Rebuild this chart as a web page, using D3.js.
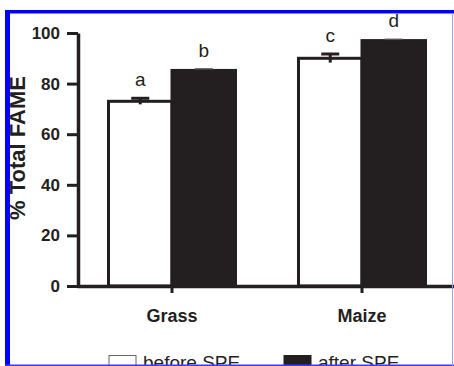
<!DOCTYPE html>
<html>
<head>
<meta charset="utf-8">
<script src="https://cdn.jsdelivr.net/npm/d3@7"></script>
<style>
  html, body { margin: 0; padding: 0; background: #fff; }
  svg { display: block; }
</style>
</head>
<body>
<div id="chart"></div>
<script>
  "use strict";

  const categories = ["Grass", "Maize"];
  const series = ["before SPE", "after SPE"];
  const beforeValues = [73, 90];
  const beforeErr = [1.2, 1.7];
  const afterValues = [85.2, 97];
  const afterErr = [0.6, 0.5];
  const beforeLetters = ["a", "c"];
  const afterLetters = ["b", "d"];
  const yTicks = [0, 20, 40, 60, 80, 100];

  const W = 454, H = 366;
  const INK = "#231f20";
  const FONT = "'Liberation Sans', Arial, Helvetica, sans-serif";

  const svg = d3.select("#chart").append("svg")
    .attr("width", W).attr("height", H)
    .attr("viewBox", `0 0 ${W} ${H}`);

  const y = d3.scaleLinear().domain([0, 100]).range([286, 33]);
  const x = d3.scaleBand().domain(categories)
    .range([77, 457]).paddingInner(0.3316).paddingOuter(0.1658);
  const xSub = d3.scaleBand().domain(series).range([0, x.bandwidth()]);

  // rows for bars
  const rows = [];
  categories.forEach((c, i) => {
    rows.push({ cat: c, s: series[0], v: beforeValues[i], e: beforeErr[i], lab: beforeLetters[i] });
    rows.push({ cat: c, s: series[1], v: afterValues[i], e: afterErr[i], lab: afterLetters[i] });
  });

  const barX = d => x(d.cat) + xSub(d.s);
  const fillFor = s => s === series[0] ? "#ffffff" : INK;

  // bars
  svg.append("g").selectAll("rect")
    .data(rows).enter().append("rect")
    .attr("x", barX)
    .attr("y", d => y(d.v))
    .attr("width", xSub.bandwidth())
    .attr("height", d => y(0) - y(d.v))
    .attr("fill", d => fillFor(d.s))
    .attr("stroke", INK)
    .attr("stroke-width", 3);

  // error bars
  const eg = svg.append("g");
  rows.forEach(d => {
    const cx = barX(d) + xSub.bandwidth() / 2;
    const col = d.s === series[0] ? INK : "#555";
    eg.append("line")
      .attr("x1", cx).attr("x2", cx)
      .attr("y1", y(d.v - d.e)).attr("y2", y(d.v + d.e))
      .attr("stroke", INK).attr("stroke-width", 3);
    eg.append("line")
      .attr("x1", cx - 9).attr("x2", cx + 9)
      .attr("y1", y(d.v + d.e)).attr("y2", y(d.v + d.e))
      .attr("stroke", col).attr("stroke-width", d.s === series[0] ? 3 : 1.5);
  });

  // significance letters
  svg.append("g").selectAll("text")
    .data(rows).enter().append("text")
    .attr("x", d => barX(d) + xSub.bandwidth() / 2)
    .attr("y", d => y(d.v + d.e) - 12)
    .attr("text-anchor", "middle")
    .attr("font-family", FONT)
    .attr("font-size", "19px")
    .attr("fill", INK)
    .text(d => d.lab);

  // y axis
  const yAxis = svg.append("g")
    .attr("transform", "translate(78,0)")
    .call(d3.axisLeft(y).tickValues(yTicks).tickSize(11).tickSizeOuter(0).tickPadding(7));
  yAxis.select(".domain").attr("stroke", INK).attr("stroke-width", 3.5);
  yAxis.selectAll(".tick line").attr("stroke", INK).attr("stroke-width", 3);
  yAxis.selectAll(".tick text")
    .attr("font-family", FONT).attr("font-size", "17px")
    .attr("font-weight", "bold").attr("fill", INK);

  // x axis
  const xAxis = svg.append("g")
    .attr("transform", "translate(0,286)")
    .call(d3.axisBottom(x).tickSize(7).tickSizeOuter(0).tickPadding(16));
  xAxis.select(".domain").attr("stroke", INK).attr("stroke-width", 3.5);
  xAxis.selectAll(".tick line").attr("stroke", INK).attr("stroke-width", 3);
  xAxis.selectAll(".tick text")
    .attr("font-family", FONT).attr("font-size", "18px")
    .attr("font-weight", "bold").attr("fill", INK);

  // y title (partly hidden behind the cropped frame, as in the source)
  svg.append("text")
    .attr("transform", "rotate(-90)")
    .attr("x", -148).attr("y", 25)
    .attr("text-anchor", "middle")
    .attr("font-family", FONT)
    .attr("font-size", "22px")
    .attr("font-weight", "bold")
    .attr("fill", INK)
    .text("% Total FAME");

  // legend
  const legX = [109, 284];
  const lg = svg.append("g");
  series.forEach((s, i) => {
    lg.append("rect")
      .attr("x", legX[i]).attr("y", 355.5)
      .attr("width", 27).attr("height", 20)
      .attr("fill", fillFor(s))
      .attr("stroke", i === 0 ? "#666" : INK)
      .attr("stroke-width", 1);
    lg.append("text")
      .attr("x", legX[i] + 34).attr("y", 369)
      .attr("font-family", FONT)
      .attr("font-size", "19px")
      .attr("fill", INK)
      .text(s);
  });

  // frame (cropped figure border)
  const fr = svg.append("g");
  fr.append("rect").attr("x", 0).attr("y", 0).attr("width", 5).attr("height", H).attr("fill", "#fff");
  fr.append("rect").attr("x", 0).attr("y", 0).attr("width", W).attr("height", 10).attr("fill", "#fff");
  fr.append("rect").attr("x", 5).attr("y", 10).attr("width", W - 5).attr("height", 3.5).attr("fill", "#0000ff");
  fr.append("rect").attr("x", 5).attr("y", 10).attr("width", 5).attr("height", H - 10).attr("fill", "#0000ff");
  fr.append("rect").attr("x", 5).attr("y", 364.5).attr("width", W - 5).attr("height", 1.5).attr("fill", "#3a3aff");
  fr.append("rect").attr("x", 5).attr("y", 366).attr("width", W).attr("height", 5).attr("fill", "#fff");
  fr.append("rect").attr("x", 452).attr("y", 13).attr("width", 1).attr("height", H - 13).attr("fill", "#9a9aff");
</script>
</body>
</html>
